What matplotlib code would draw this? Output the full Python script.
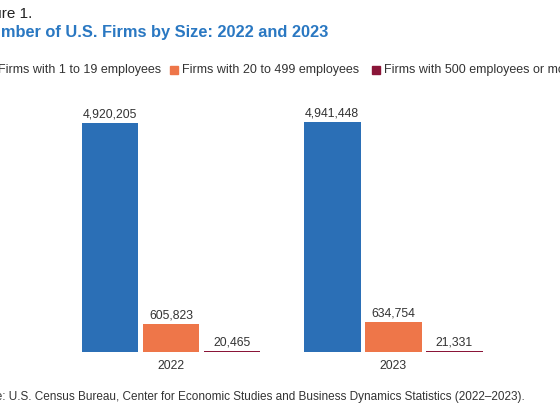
import matplotlib.pyplot as plt
from matplotlib.patches import Rectangle
import numpy as np

years = ['2022', '2023']
series = ['Firms with 1 to 19 employees', 'Firms with 20 to 499 employees',
          'Firms with 500 employees or more']
small = [4920205, 4941448]
medium = [605823, 634754]
large = [20465, 21331]
colors = ['#2b6fb6', '#ee7649', '#8a1538']
title_blue = '#2a78c2'

plt.rcParams['font.family'] = ['Liberation Sans', 'DejaVu Sans']

fig = plt.figure(figsize=(5.6, 4.2), dpi=100)
ax = fig.add_axes([60 / 560, 1 - 352 / 420, 440 / 560, 252 / 420])

group_x = np.array([0, 3.64])
width = 0.93
for i, vals in enumerate([small, medium, large]):
    xs = group_x + (i - 1)
    ax.bar(xs, vals, width=width, color=colors[i])
    for x, v in zip(xs, vals):
        ax.text(x, v + 60000, f'{v:,}', ha='center', va='bottom', fontsize=8.8, color='#333333')

ax.set_xlim(-1.82, 5.39)
ax.set_ylim(0, 5414000)
ax.set_xticks(group_x)
ax.set_xticklabels(years, fontsize=8.8, color='#333333')
ax.tick_params(length=0, pad=6)
ax.set_yticks([])
for s in ax.spines.values():
    s.set_visible(False)

fig.text(-0.05, 1 - 14 / 420, 'Figure 1.', fontsize=11, va='center', color='#222222')
fig.text(-0.037, 1 - 33 / 420, 'Number of U.S. Firms by Size: 2022 and 2023', fontsize=11.8,
         fontweight='bold', va='center', color=title_blue)

# legend
leg_y = 1 - 70 / 420
for px, label, c in [(-14, series[0], colors[0]), (170, series[1], colors[1]), (372, series[2], colors[2])]:
    fig.patches.append(Rectangle((px / 560, leg_y - 4 / 420), 8 / 560, 8 / 420,
                                 transform=fig.transFigure, color=c))
    fig.text((px + 12) / 560, leg_y, label, fontsize=9, va='center', color='#333333')

fig.text(-0.063, 1 - 397 / 420,
         'Source: U.S. Census Bureau, Center for Economic Studies and Business Dynamics Statistics (2022\u20132023).',
         fontsize=8.5, va='center', color='#333333')

fig.savefig('out.png', dpi=100)
